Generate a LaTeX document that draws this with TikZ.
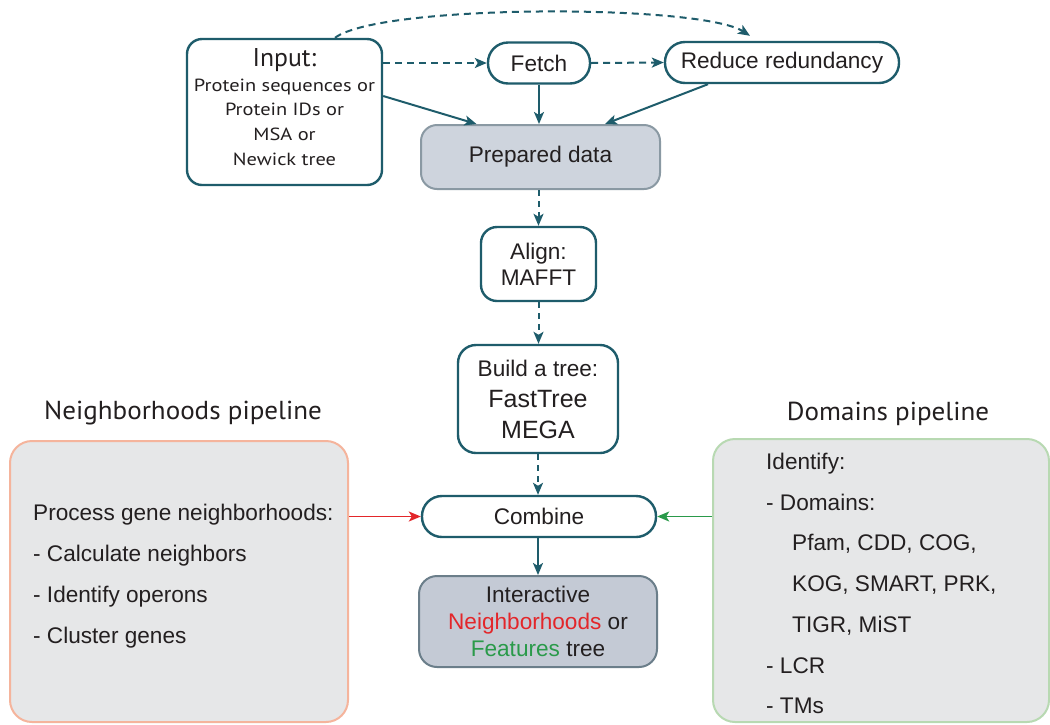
\documentclass[tikz,border=0pt]{standalone}
\usepackage{fontspec}
\setmainfont{Liberation Sans}
\newfontfamily\myr[FakeStretch=1.04]{PT Sans}
\newfontfamily\myrn{PT Sans}
\newfontfamily\myrw[FakeStretch=1.16]{PT Sans}
\usetikzlibrary{arrows.meta}
\definecolor{teal1}{HTML}{1E5C6B}
\definecolor{txt}{HTML}{231F20}
\definecolor{prepfill}{HTML}{CED4DD}
\definecolor{prepdraw}{HTML}{8A99A3}
\definecolor{intfill}{HTML}{C4CAD5}
\definecolor{intdraw}{HTML}{6B7E8A}
\definecolor{bigfill}{HTML}{E6E7E8}
\definecolor{neighdraw}{HTML}{F5B49C}
\definecolor{domdraw}{HTML}{B8D9B2}
\definecolor{nred}{HTML}{E3262A}
\definecolor{ngreen}{HTML}{2A9A4A}
\tikzset{
  tbox/.style={draw=teal1, line width=2.4pt, rounded corners=15pt, fill=white, text=txt, inner sep=0pt, align=center, font=\fontsize{22.6}{26}\selectfont},
  pill/.style={tbox, rounded corners=20pt},
  gbox/.style={draw=prepdraw, fill=prepfill, line width=2pt, rounded corners=16pt, text=txt, inner sep=0pt, align=center, font=\fontsize{22.6}{27}\selectfont},
  bigbox/.style={fill=bigfill, line width=2pt, rounded corners=22pt, inner sep=0pt},
  arr/.style={draw=teal1, line width=2pt, -{Stealth[length=12pt,width=10pt,inset=3pt]}},
  dsh/.style={arr, dash pattern=on 7pt off 5pt},
  plabel/.style={text=txt, font=\myr\fontsize{26}{30}\selectfont, inner sep=0pt},
  btext/.style={text=txt, anchor=north west, inner sep=0pt, align=left}
}
\begin{document}
\begin{tikzpicture}[x=1pt,y=-1pt]
\useasboundingbox[fill=white] (0,0) rectangle (1050,724);

% big side boxes
\node[bigbox, draw=neighdraw, minimum width=338pt, minimum height=281pt] (neigh) at (179,581.5) {};
\node[bigbox, draw=domdraw, minimum width=336pt, minimum height=283pt] (dom) at (881,580.5) {};
\node[plabel] (nlab) at (183,413) {Neighborhoods pipeline};
\node[plabel] (dlab) at (888,414) {Domains pipeline};
\node[btext, font=\fontsize{22.6}{41}\selectfont] (ntxt) at (33,504) {Process gene neighborhoods:\\- Calculate neighbors\\- Identify operons\\- Cluster genes};
\node[btext, font=\fontsize{22.6}{40.7}\selectfont] (dtxt) at (766,453) {Identify:\\- Domains:\\\hspace*{26pt}Pfam, CDD, COG,\\\hspace*{26pt}KOG, SMART, PRK,\\\hspace*{26pt}TIGR, MiST\\- LCR\\- TMs};

% top row
\node[tbox, minimum width=195pt, minimum height=146pt] (inp) at (284.5,112) {};
\node[text=txt, align=center, inner sep=0pt, font=\myrw\fontsize{17.6}{24.7}\selectfont] (inptxt) at (284.5,107) {{\myrn\fontsize{25.7}{26}\selectfont Input:}\\Protein sequences or\\Protein IDs or\\MSA or\\Newick tree};
\node[pill, minimum width=102pt, minimum height=41pt] (fetch) at (539,63) {Fetch};
\node[pill, minimum width=234pt, minimum height=41pt] (red) at (782,62.5) {Reduce redundancy};

% central column
\node[gbox, minimum width=239pt, minimum height=64pt] (prep) at (540.5,157) {Prepared data};
\node[tbox, minimum width=115pt, minimum height=74pt, rounded corners=16pt] (align) at (538.5,264) {Align:\\MAFFT};
\node[tbox, minimum width=160pt, minimum height=108pt, rounded corners=18pt, font=\fontsize{22.6}{31}\selectfont] (build) at (538,399) {Build a tree:\\{\fontsize{25}{30}\selectfont FastTree}\\{\fontsize{25}{30}\selectfont MEGA}};
\node[pill, minimum width=234pt, minimum height=41pt] (comb) at (539,516.5) {Combine};
\node[gbox, draw=intdraw, fill=intfill, minimum width=238pt, minimum height=91pt, rounded corners=18pt] (inter) at (538,621.5) {Interactive\\{\color{nred}Neighborhoods} or\\{\color{ngreen}Features} tree};

% connectors
\draw[dsh] ([xshift=50.5pt]inp.north) .. controls +(45,-34) and +(-50,-32) .. ([xshift=-32pt,yshift=5pt]red.north);
\draw[dsh] (inp.east |- fetch.west) -- (fetch.west);
\draw[dsh] (fetch.east) -- (red.west);
\draw[arr] ([yshift=16pt]inp.east) -- ([xshift=-64pt]prep.north);
\draw[arr] (fetch.south) -- (fetch.south |- prep.north);
\draw[arr] ([xshift=-74pt]red.south) -- ([xshift=64.5pt]prep.north);
\draw[dsh, dash pattern=on 6pt off 5pt] (align.north |- prep.south) -- (align.north);
\draw[dsh, dash pattern=on 6pt off 5pt] (align.south) -- (align.south |- build.north);
\draw[dsh, dash pattern=on 6pt off 5pt] (build.south) -- (build.south |- comb.north);
\draw[arr] (comb.south -| inter.north) -- (inter.north);
\draw[arr, draw=nred, line width=1.6pt] (neigh.east |- comb.west) -- (comb.west);
\draw[arr, draw=ngreen, line width=1.6pt] (dom.west |- comb.east) -- (comb.east);
\end{tikzpicture}
\end{document}
